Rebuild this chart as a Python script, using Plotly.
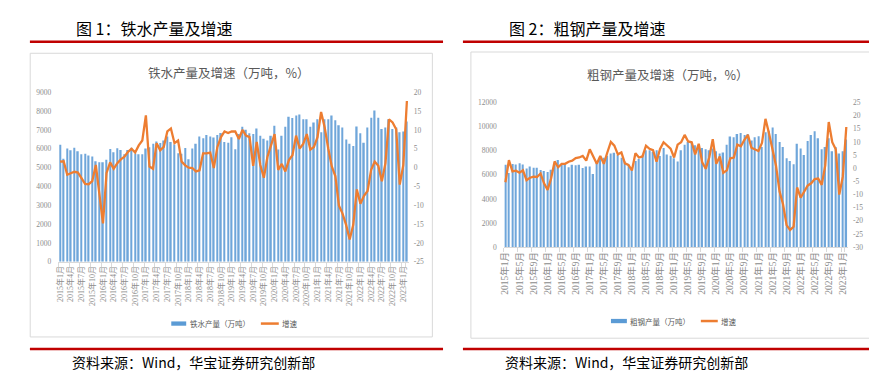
import plotly.graph_objects as go

W, H = 877, 372

# ---------------- data ----------------
months = [f"{y}年{m}月" for y in range(2015, 2024) for m in range(1, 13)][:98]  # 2015-01 .. 2023-02

iron_output = [
    6218, 5475, 6010, 5925, 6062, 5870, 5717, 5734, 5648, 5596, 5337, 5285,
    5285, 5423, 5993, 5820, 6028, 5941, 5717, 5941, 6062, 5751, 5717, 5717,
    6010, 6080, 6269, 6390, 6304, 6442, 6649, 6356, 6235, 5768, 5734, 6045,
    5440, 6010, 6269, 6649, 6563, 6736, 6649, 6597, 6736, 6839, 6356, 6321,
    6615, 5976, 6790, 7170, 7010, 6820, 6790, 7080, 6700, 6530, 6440, 6700,
    7220, 5960, 6700, 7170, 7700, 7630, 7770, 7820, 7565, 7565, 7168, 7392,
    7565, 6874, 7565, 7565, 7772, 7513, 7254, 7133, 6494, 6269, 6148, 7185,
    6822, 6321, 7133, 7651, 8031, 7651, 7047, 7133, 7565, 7047, 7133, 6874,
    6925, 7444,
]
iron_growth = [
    1.6, 1.7, -1.9, -1.4, -1.1, -1.3, -2.7, -4.3, -4.4, -3.6, 0.7, -6.6,
    -14.8, -1.4, 1.4, -0.3, 1.2, 2.2, 2.9, 4.2, 5.0, 4.0, 5.9, 7.2,
    13.9, 0.3, -0.3, 6.5, 4.6, 5.5, 9.6, 10.4, 6.5, 7.2, 1.6, 0.6,
    0.0, -0.1, -1.0, -0.7, 3.8, 3.8, 4.0, -0.1, 5.5, 8.1, 9.6, 9.2,
    9.6, 9.6, 7.6, 10.0, 8.5, 8.1, 0.5, 6.8, 0.7, -2.7, 2.9, 5.9,
    8.9, -0.6, 1.0, -1.0, 2.0, 3.3, 8.5, 5.1, 6.3, 8.9, 4.8, 5.5,
    8.1, 14.8, 10.7, 5.1, 0.3, -2.3, -10.1, -12.2, -15.2, -19.1, -15.2, -5.8,
    -9.6, -7.5, -6.2, -0.6, 1.6, 0.5, -3.6, 1.2, 12.8, 12.0, 10.2, -4.5,
    0.7, 17.7,
]
steel_output = [
    6830, 6150, 6910, 6860, 6960, 6860, 6530, 6690, 6590, 6590, 6400, 6320,
    6230, 6430, 6830, 7230, 6830, 6880, 6640, 6830, 6800, 6830, 6560, 6690,
    6690, 6070, 7150, 7420, 7420, 7590, 7770, 7830, 7640, 7420, 7100, 6830,
    6430, 7150, 7310, 7590, 8040, 8040, 7910, 8040, 7560, 8230, 7690, 7590,
    7370, 7100, 8040, 8500, 8720, 8720, 8450, 8310, 8230, 8120, 8040, 8180,
    7960, 7770, 7850, 8500, 9180, 9120, 9390, 9470, 9310, 9390, 8850, 9120,
    9200, 8310, 9530, 9660, 9930, 9390, 8720, 8310, 7370, 7150, 6880, 8580,
    8180, 7640, 8800, 9310, 9610, 9040, 8120, 8310, 9040, 7960, 8310, 7770,
    7960, 8930,
]
steel_growth = [
    -5.3, 3.1, -1.2, -0.9, -1.7, -0.8, -4.5, -3.6, -3.2, -3.3, -2.0, -5.7,
    -8.2, -3.9, 2.6, 0.4, 1.7, 1.7, 2.5, 2.9, 3.9, 4.1, 4.7, 2.9,
    7.2, 4.7, 1.7, 4.7, 1.7, 6.0, 10.0, 8.6, 5.3, 6.0, 1.9, 1.3,
    -0.8, 5.7, 4.1, 4.5, 8.6, 7.4, 6.9, 2.5, 7.4, 9.9, 8.5, 7.5,
    4.1, 9.0, 9.9, 12.7, 10.2, 9.9, 5.3, 9.3, 2.3, -0.2, 4.1, 11.1,
    1.7, 4.5, -1.7, -0.8, 3.8, 4.1, 9.0, 8.4, 10.8, 12.7, 7.8, 7.2,
    6.6, 9.6, 18.8, 13.3, 6.6, 1.0, -8.8, -13.7, -21.6, -23.5, -22.2, -7.3,
    -11.2, -8.8, -6.6, -5.7, -4.1, -3.9, -6.3, 1.0, 17.6, 9.9, 7.2, -10.0,
    -3.2, 15.7,
]

left_ticks = months[::3]
right_ticks = months[::4]
left_y_ticks = list(range(0, 9001, 1000))
left_y2_ticks = list(range(-25, 21, 5))
right_y_ticks = list(range(0, 12001, 2000))
right_y2_ticks = list(range(-30, 26, 5))

BAR_COLOR = "#6FA6DA"
LINE_COLOR = "#ED7D31"
AXIS_TXT = "#8C8C8C"
CJK = "Noto Sans CJK SC"
SERIF = "Liberation Serif, Noto Sans CJK SC"


def px(x):
    return x / W


def py(y):
    return 1 - y / H


fig = go.Figure()
fig.add_trace(go.Bar(x=months, y=iron_output, xaxis="x", yaxis="y",
                     marker=dict(color=BAR_COLOR, line=dict(width=0)), name="铁水产量（万吨）"))
fig.add_trace(go.Scatter(x=months, y=iron_growth, xaxis="x", yaxis="y2", mode="lines",
                         line=dict(color=LINE_COLOR, width=2.3), name="增速"))
fig.add_trace(go.Bar(x=months, y=steel_output, xaxis="x2", yaxis="y3",
                     marker=dict(color=BAR_COLOR, line=dict(width=0)), name="粗钢产量（万吨）"))
fig.add_trace(go.Scatter(x=months, y=steel_growth, xaxis="x2", yaxis="y4", mode="lines",
                         line=dict(color=LINE_COLOR, width=2.3), name="增速"))

xcommon = dict(type="category", categoryorder="array", categoryarray=months,
               range=[-0.5, len(months) - 0.5], tickmode="array", tickangle=-90,
               showline=True, linecolor="#D9D9D9", linewidth=1, ticks="outside",
               tickson="boundaries", ticklen=4, tickcolor="#D9D9D9",
               showgrid=False, zeroline=False, fixedrange=True)
ycommon = dict(showgrid=False, zeroline=False, showline=False, ticks="",
               tickfont=dict(family=SERIF, size=7.5, color=AXIS_TXT), fixedrange=True)

fig.update_layout(
    width=W, height=H, autosize=False,
    margin=dict(l=0, r=0, t=0, b=0),
    paper_bgcolor="white", plot_bgcolor="white",
    showlegend=False, bargap=0.58,
    xaxis=dict(xcommon, domain=[px(46.5), px(398.5)], anchor="y",
               tickvals=left_ticks, ticktext=left_ticks,
               tickfont=dict(family=SERIF, size=8, color=AXIS_TXT)),
    yaxis=dict(ycommon, domain=[py(256), py(82.3)], anchor="x", range=[0, 9000],
               tickvals=left_y_ticks, ticktext=[str(v) for v in left_y_ticks],
               ticklabelstandoff=6),
    yaxis2=dict(ycommon, overlaying="y", side="right", anchor="x", range=[-25, 20],
                tickvals=left_y2_ticks, ticktext=[str(v) for v in left_y2_ticks],
                ticklabelstandoff=4),
    xaxis2=dict(xcommon, domain=[px(493.9), px(839.9)], anchor="y3",
                tickvals=right_ticks, ticktext=right_ticks,
                tickfont=dict(family=SERIF, size=9.5, color=AXIS_TXT)),
    yaxis3=dict(ycommon, domain=[py(241), py(92.8)], anchor="x2", range=[0, 12000],
                tickvals=right_y_ticks, ticktext=[str(v) for v in right_y_ticks],
                ticklabelstandoff=6),
    yaxis4=dict(ycommon, overlaying="y3", side="right", anchor="x2", range=[-30, 25],
                tickvals=right_y2_ticks, ticktext=[str(v) for v in right_y2_ticks],
                ticklabelstandoff=4),
)

shapes = []
# red rules
for x0, x1 in [(18, 433), (453, 869)]:
    for y in (30.5, 345.3):
        shapes.append(dict(type="line", xref="paper", yref="paper",
                           x0=px(x0), x1=px(x1), y0=py(y), y1=py(y),
                           line=dict(color="#C00000", width=2.6)))
# chart frames
for x0, x1, y0, y1 in [(18.3, 422.3, 42.3, 333), (461, 864.3, 41, 334.3)]:
    shapes.append(dict(type="rect", xref="paper", yref="paper",
                       x0=px(x0), x1=px(x1), y0=py(y1), y1=py(y0),
                       line=dict(color="#D9D9D9", width=1), fillcolor="rgba(0,0,0,0)"))
# legend markers
for bx0, bx1, by, lx0, lx1 in [(160, 175, 319.3, 250, 268), (601.7, 617.7, 316.7, 692, 709)]:
    shapes.append(dict(type="rect", xref="paper", yref="paper",
                       x0=px(bx0), x1=px(bx1), y0=py(by + 2.2), y1=py(by - 2.2),
                       line=dict(width=0), fillcolor="#5B9BD5"))
    shapes.append(dict(type="line", xref="paper", yref="paper",
                       x0=px(lx0), x1=px(lx1), y0=py(by), y1=py(by),
                       line=dict(color=LINE_COLOR, width=2.5)))
fig.update_layout(shapes=shapes)

ann = []


def text(t, x, y, size, color, anchor="left", family=CJK):
    ann.append(dict(text=t, x=px(x), y=py(y), xref="paper", yref="paper",
                    xanchor=anchor, yanchor="middle", showarrow=False,
                    font=dict(family=family, size=size, color=color)))


text("图 1：铁水产量及增速", 62, 16.5, 16, "#000000")
text("图 2：粗钢产量及增速", 497, 16.5, 16, "#000000")
text("铁水产量及增速（万吨，%）", 217.5, 62, 12.5, "#595959", anchor="center")
text("粗钢产量及增速（万吨，%）", 659.5, 64.5, 12.5, "#595959", anchor="center")
text("铁水产量（万吨）", 177, 319.3, 7.5, "#595959")
text("增速", 269, 319.3, 7.5, "#595959")
text("粗钢产量（万吨）", 619, 316.7, 7.5, "#595959")
text("增速", 710, 316.7, 7.5, "#595959")
text("资料来源：Wind，华宝证券研究创新部", 58, 358.5, 14, "#000000")
text("资料来源：Wind，华宝证券研究创新部", 493, 358.5, 14, "#000000")
fig.update_layout(annotations=ann)

fig.write_html("out.html")
